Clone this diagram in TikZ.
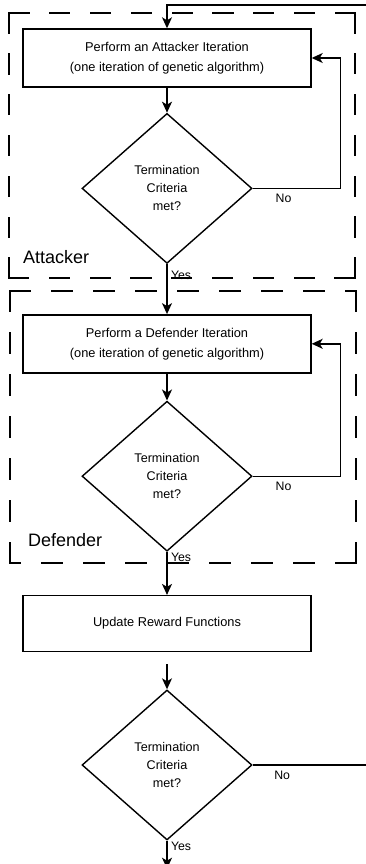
\documentclass[tikz,border=0pt]{standalone}
\usepackage{fontspec}
\setmainfont{Liberation Sans}
\usetikzlibrary{arrows.meta,shapes.geometric,positioning}

\begin{document}
\begin{tikzpicture}[x=1pt,y=-1pt,auto,line width=1.4pt,
    process/.style={rectangle,draw,minimum width=288pt,minimum height=58pt,
                    align=center,font=\fontsize{12.8}{20}\selectfont},
    decision/.style={diamond,draw,minimum width=170pt,minimum height=150pt,
                     inner sep=0pt,align=center,font=\fontsize{12.6}{18}\selectfont},
    group/.style={draw,line width=1.1pt,line cap=rect,dash pattern=on 20pt off #1},
    group/.default=20.8pt,
    group label/.style={anchor=west,font=\fontsize{18}{22}\selectfont},
    flow/.style={-{Stealth[length=11pt,width=10pt,inset=3pt]}},
    answer/.style={font=\fontsize{12.3}{14}\selectfont}]

  \useasboundingbox (0,0) rectangle (366,864);

  % attacker loop
  \node[process] (att) at (167,58) {Perform an Attacker Iteration\\(one iteration of genetic algorithm)};
  \node[decision] (attdec) [below=25pt of att] {Termination\\Criteria\\met?};
  \draw[group] (9,13) -- (355,13) (355,13) -- (355,278) (355,278) -- (9,278) (9,278) -- (9,13);
  \node[group label] (attlbl) at (19,257) {Attacker};

  % defender loop
  \node[process] (def) [below=50pt of attdec] {Perform a Defender Iteration\\(one iteration of genetic algorithm)};
  \node[decision] (defdec) [below=27pt of def] {Termination\\Criteria\\met?};
  \draw[group=22pt] (10,291) -- (356,291) (356,291) -- (356,563) (356,563) -- (10,563) (10,563) -- (10,291);
  \node[group label] (deflbl) at (24,540) {Defender};

  % reward update
  \node[process,minimum height=56pt] (reward) [below=43pt of defdec] {Update Reward Functions};
  \coordinate[below=12pt of reward] (gap);
  \node[decision] (final) [below=37pt of reward] {Termination\\Criteria\\met?};
  \coordinate[below=28pt of final] (done);
  \coordinate (outer) at (366,5);

  \draw[flow] (outer) -| (att.north);
  \draw[flow] (att) -- (attdec);
  \draw[flow] (attdec.east) -- node[below,pos=0.35,answer,yshift=-2pt] {No} ++(88,0) |- (att.east);
  \draw[flow] (attdec.south) -- node[right,pos=0.22,answer] {Yes} (def.north);
  \draw[flow] (def) -- (defdec);
  \draw[flow] (defdec.east) -- node[below,pos=0.35,answer,yshift=-2pt] {No} ++(88,0) |- (def.east);
  \draw[flow] (defdec.south) -- node[right,pos=0.12,answer] {Yes} (reward.north);
  \draw[flow] (gap) -- (final.north);
  \draw (final.east) -- node[below,pos=0.26,answer,yshift=-2pt] {No} (final.east -| outer);
  \draw[flow] (final.south) -- node[right,pos=0.2,answer] {Yes} (done);
\end{tikzpicture}
\end{document}
